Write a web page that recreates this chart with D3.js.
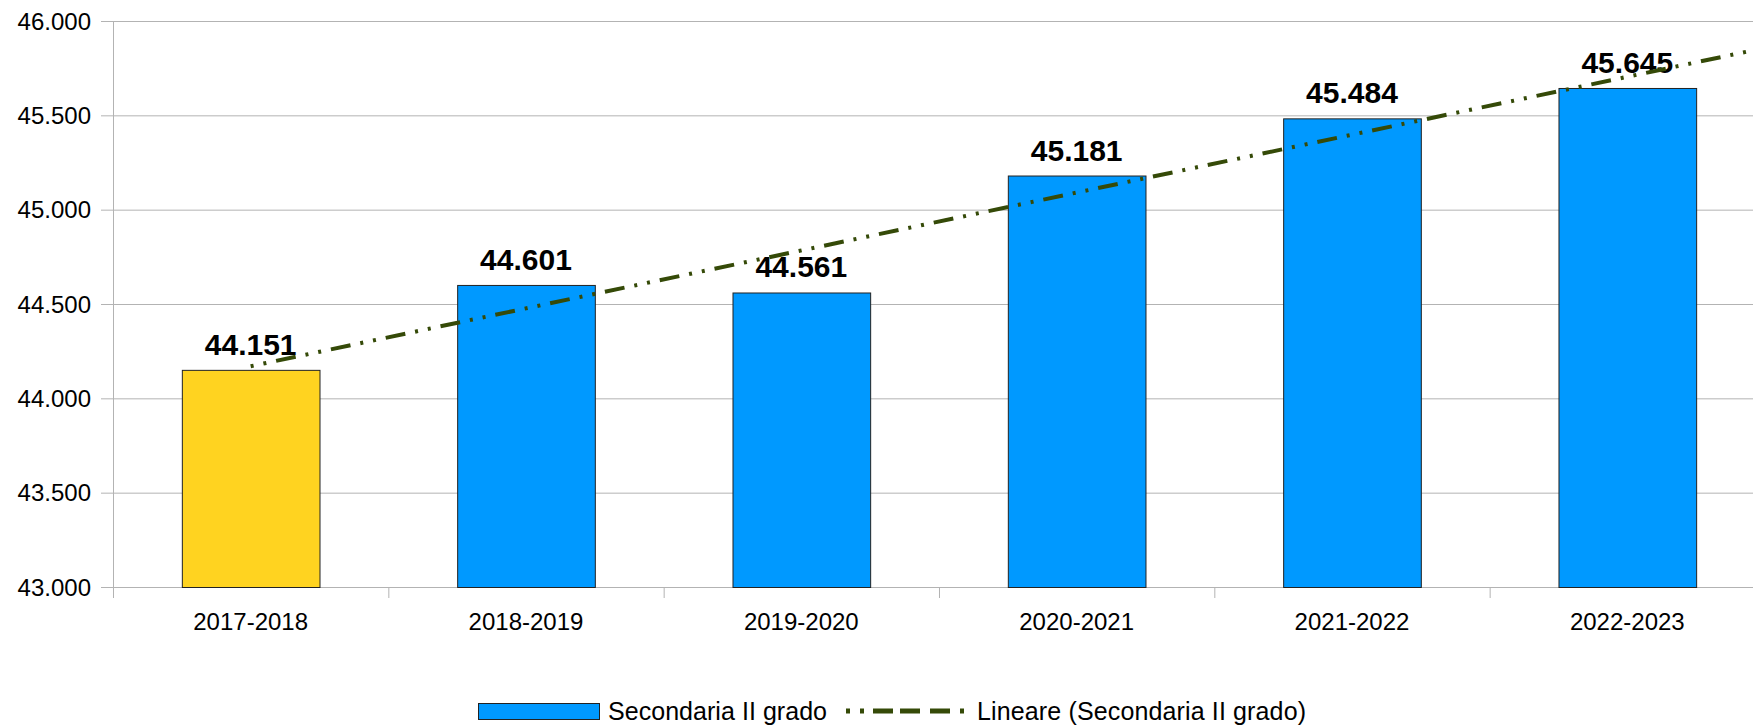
<!DOCTYPE html>
<html>
<head>
<meta charset="utf-8">
<script src="https://cdn.jsdelivr.net/npm/d3@7/dist/d3.min.js"></script>
<style>
  body { margin: 0; background: #fff; }
  svg { display: block; font-family: "Liberation Sans", Arial, sans-serif; }
</style>
</head>
<body>
<div id="chart"></div>
<script>
var years = ['2017-2018', '2018-2019', '2019-2020', '2020-2021', '2021-2022', '2022-2023'];
var values = [44151, 44601, 44561, 45181, 45484, 45645];
var bar_colors = ['#ffd320', '#0099ff', '#0099ff', '#0099ff', '#0099ff', '#0099ff'];
var y_ticks = [43000, 43500, 44000, 44500, 45000, 45500, 46000];
var series_name = 'Secondaria II grado';
var trend_name = 'Lineare (Secondaria II grado)';

var chart_width = 1753;
var chart_height = 728;
var plot_left = 113, plot_top = 21, plot_bottom = 587;
var band = 275.33;
var plot_right = plot_left + band * years.length;

var fmt = function(v) {
  return d3.format(',.0f')(v).replace(/,/g, '.');
};

var svg = d3.select('#chart')
      .append('svg')
      .attr('width', chart_width)
      .attr('height', chart_height);

var x_scale = d3.scaleBand()
      .domain(years)
      .range([plot_left, plot_right])
      .paddingInner(0.5)
      .paddingOuter(0.25);

var y_scale = d3.scaleLinear()
      .domain([43000, 46000])
      .range([plot_bottom, plot_top]);

// gridlines
svg.append('g')
   .selectAll('line')
   .data(y_ticks)
   .enter()
   .append('line')
   .attr('x1', plot_left - 12)
   .attr('x2', plot_right)
   .attr('y1', function(d) { return y_scale(d) + 0.5; })
   .attr('y2', function(d) { return y_scale(d) + 0.5; })
   .attr('stroke', '#b3b3b3')
   .attr('stroke-width', 1);

// y axis line
svg.append('line')
   .attr('x1', plot_left + 0.5).attr('x2', plot_left + 0.5)
   .attr('y1', plot_top).attr('y2', plot_bottom + 11)
   .attr('stroke', '#b3b3b3');

// x ticks at band boundaries
svg.append('g')
   .selectAll('line')
   .data(d3.range(1, years.length + 1))
   .enter()
   .append('line')
   .attr('x1', function(i) { return plot_left + band * i + 0.5; })
   .attr('x2', function(i) { return plot_left + band * i + 0.5; })
   .attr('y1', plot_bottom)
   .attr('y2', plot_bottom + 11)
   .attr('stroke', '#b3b3b3');

// y labels
svg.append('g')
   .selectAll('text')
   .data(y_ticks)
   .enter()
   .append('text')
   .attr('x', 91)
   .attr('y', function(d) { return y_scale(d) + 8.5; })
   .attr('text-anchor', 'end')
   .attr('font-size', 24)
   .attr('fill', '#000')
   .text(fmt);

// x labels
svg.append('g')
   .selectAll('text')
   .data(years)
   .enter()
   .append('text')
   .attr('x', function(d) { return x_scale(d) + x_scale.bandwidth() / 2; })
   .attr('y', 630)
   .attr('text-anchor', 'middle')
   .attr('font-size', 24)
   .attr('fill', '#000')
   .text(function(d) { return d; });

// bars
svg.append('g')
   .selectAll('rect')
   .data(values)
   .enter()
   .append('rect')
   .attr('x', function(d, i) { return x_scale(years[i]) + 0.5; })
   .attr('y', function(d) { return y_scale(d) + 0.5; })
   .attr('width', x_scale.bandwidth())
   .attr('height', function(d) { return plot_bottom - y_scale(d); })
   .attr('fill', function(d, i) { return bar_colors[i]; })
   .attr('stroke', '#222')
   .attr('stroke-width', 1);

// value labels
svg.append('g')
   .selectAll('text')
   .data(values)
   .enter()
   .append('text')
   .attr('x', function(d, i) { return x_scale(years[i]) + x_scale.bandwidth() / 2; })
   .attr('y', function(d) { return y_scale(d) - 15; })
   .attr('text-anchor', 'middle')
   .attr('font-size', 30)
   .attr('font-weight', 'bold')
   .attr('fill', '#000')
   .text(fmt);

// linear trend
var xs = values.map(function(d, i) { return i + 1; });
var mx = d3.mean(xs), my = d3.mean(values);
var slope = d3.sum(xs, function(x, i) { return (x - mx) * (values[i] - my); }) /
            d3.sum(xs, function(x) { return (x - mx) * (x - mx); });
var icpt = my - slope * mx;
var x0 = x_scale(years[0]) + x_scale.bandwidth() / 2;
var trend_x = function(t) { return x0 + (t - 1) * band; };
var t_end = years.length + 0.5;

svg.append('line')
   .attr('x1', trend_x(1))
   .attr('y1', y_scale(icpt + slope))
   .attr('x2', trend_x(t_end))
   .attr('y2', y_scale(icpt + slope * t_end))
   .attr('stroke', '#354a08')
   .attr('stroke-width', 4)
   .attr('stroke-dasharray', '3,10,3,10,20,10');

// legend
var legend = svg.append('g');
legend.append('rect')
   .attr('x', 478.5).attr('y', 703.5)
   .attr('width', 121).attr('height', 16)
   .attr('fill', '#0099ff')
   .attr('stroke', '#222');
legend.append('text')
   .attr('x', 608).attr('y', 720)
   .attr('font-size', 25)
   .attr('textLength', 219)
   .text(series_name);
legend.append('line')
   .attr('x1', 846).attr('x2', 964)
   .attr('y1', 711).attr('y2', 711)
   .attr('stroke', '#354a08')
   .attr('stroke-width', 5)
   .attr('stroke-dasharray', '4,10,4,9,20,7,20,10,20,10,4');
legend.append('text')
   .attr('x', 977).attr('y', 720)
   .attr('font-size', 25)
   .attr('textLength', 329)
   .text(trend_name);
</script>
</body>
</html>
